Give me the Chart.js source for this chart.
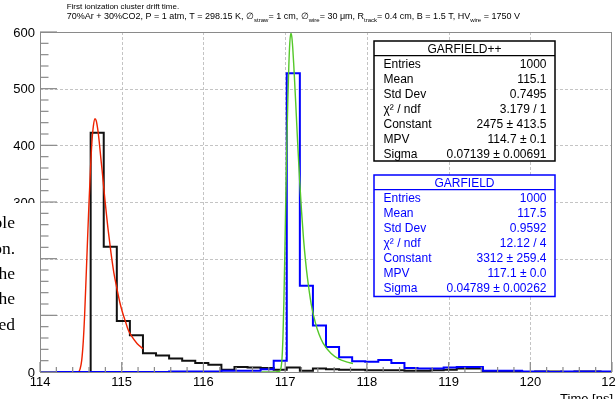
<!DOCTYPE html>
<html><head><meta charset="utf-8">
<script src="https://cdn.jsdelivr.net/npm/chart.js@4.4.1/dist/chart.umd.min.js"></script>
<style>html,body{margin:0;padding:0;background:#fff;}#wrap{width:616px;height:399px;position:relative;}canvas{display:block;}</style>
</head><body><div id="wrap"><canvas id="c" width="616" height="399"></canvas></div>
<script>
// ---- data ----
const binStart = 113.98;
const binWidth = 0.16;
const garfieldPPCounts = [0,0,0,0,422,221,90,65,33,29,24,20,16,13,4,9,8,7,4,8,2,6,5,4,4,3,3,3,2,2,3,4,6,6,1,1,1,0,1,1,0,1,1,0];
const garfieldCounts   = [0,0,0,0,0,0,0,0,0,0,1,1,1,1,2,2,2,5,20,527,152,82,44,26,19,18,21,16,7,6,6,8,9,9,2,2,2,1,1,0,1,1,1,1];
const fitRedX = [114.45,114.475,114.49,114.51,114.53,114.546,114.565,114.582,114.60,114.618,114.635,114.653,114.673,114.689,114.707,114.725,114.742,114.760,114.778,114.796,114.814,114.832,114.868,114.903,114.94,114.975,115.01,115.046,115.08,115.117,115.19,115.26];
const fitRedY = [0,1,5,20,55,100,170,234,300,359,405,434,447,443,428,406,381,356,329,302,277,253,211,176,148,124,105,89,74,64,50,41];
const fitGreenX = [116.71,116.85,116.92,116.937,116.95,116.961,116.973,116.985,116.997,117.009,117.021,117.033,117.045,117.057,117.07,117.081,117.093,117.105,117.117,117.129,117.141,117.153,117.177,117.201,117.225,117.249,117.273,117.32,117.368,117.416,117.464,117.56,117.656,117.75,117.83];
const fitGreenY = [0,0,1,2,8,22,60,126,215,313,405,480,540,581,598,592,572,543,510,476,440,405,339,283,235,197,166,119,88,66,51,33,23,18,15];
const xTickLabels = ['114','115','116','117','118','119','120','121'];
const yTickLabels = ['0','100','200','300','400','500','600'];
const statsPPTitle = 'GARFIELD++';
const statsPPNames = ['Entries','Mean','Std Dev','χ² / ndf','Constant','MPV','Sigma'];
const statsPPValues = ['1000','115.1','0.7495','3.179 / 1','2475 ± 413.5','114.7 ± 0.1','0.07139 ± 0.00691'];
const statsGTitle = 'GARFIELD';
const statsGNames = ['Entries','Mean','Std Dev','χ² / ndf','Constant','MPV','Sigma'];
const statsGValues = ['1000','117.5','0.9592','12.12 / 4','3312 ± 259.4','117.1 ± 0.0','0.04789 ± 0.00262'];
const titleLine1 = 'First ionization cluster drift time.';
const titleLine2 = [['70%Ar + 30%CO2, P = 1 atm, T = 298.15 K, ∅',0],['straw',1],['= 1 cm, ∅',0],['wire',1],['= 30 μm, R',0],['track',1],['= 0.4 cm, B = 1.5 T, HV',0],['wire',1],[' = 1750 V',0]];
const xAxisTitle = 'Time [ns]';
const overlayWords = ['ple','on.','the','the','ed'];

// ---- helpers ----
function histPoints(counts){
  const pts = counts.map((c,i)=>({x: binStart + i*binWidth, y: c}));
  pts.push({x: binStart + counts.length*binWidth, y: counts[counts.length-1]});
  return pts;
}
function curvePoints(xs, ys){ return xs.map((v,i)=>({x:v, y:ys[i]})); }

const SANS = '"Liberation Sans", Arial, Helvetica, sans-serif';

function drawStats(ctx, left, top, w, h, color, title, names, values){
  ctx.save();
  ctx.fillStyle = '#fff';
  ctx.fillRect(left, top, w, h);
  ctx.strokeStyle = color; ctx.lineWidth = 1.5;
  ctx.strokeRect(left, top, w, h);
  ctx.beginPath(); ctx.moveTo(left, top+14.7); ctx.lineTo(left+w, top+14.7); ctx.lineWidth = 1.2; ctx.stroke();
  ctx.fillStyle = color;
  ctx.font = '12px ' + SANS;
  ctx.textBaseline = 'middle';
  ctx.textAlign = 'center';
  ctx.fillText(title, left + w/2, top + 8.3);
  names.forEach((n,i)=>{
    const yy = top + 24 + i*15;
    ctx.textAlign = 'left';
    ctx.fillText(n, left + 9.5, yy);
    ctx.textAlign = 'right';
    ctx.fillText(values[i], left + w - 8.5, yy);
  });
  ctx.restore();
}

const rootPlugin = {
  id: 'rootStyle',
  beforeDatasetsDraw(chart){
    const {ctx, chartArea: a, scales: {x, y}} = chart;
    ctx.save();
    ctx.strokeStyle = '#c4c4c4'; ctx.lineWidth = 1; ctx.setLineDash([3,2]);
    xTickLabels.forEach(t=>{
      const v = parseFloat(t); if (v <= x.min || v >= x.max) return;
      const px = Math.round(x.getPixelForValue(v)) + 0.5;
      ctx.beginPath(); ctx.moveTo(px, a.top); ctx.lineTo(px, a.bottom); ctx.stroke();
    });
    yTickLabels.forEach(t=>{
      const v = parseFloat(t); if (v <= y.min || v >= y.max) return;
      const py = Math.round(y.getPixelForValue(v)) + 0.5;
      ctx.beginPath(); ctx.moveTo(a.left, py); ctx.lineTo(a.right, py); ctx.stroke();
    });
    ctx.restore();
  },
  afterDatasetsDraw(chart){
    const {ctx, chartArea: a, scales: {x, y}} = chart;
    ctx.save();
    // frame
    ctx.strokeStyle = '#8a8a8a'; ctx.lineWidth = 1;
    ctx.strokeRect(a.left + 0.5, a.top + 0.5, a.right - a.left - 1, a.bottom - a.top);
    // y ticks (inside)
    ctx.lineWidth = 1.2;
    for (let v = y.min; v <= y.max + 1e-6; v += 20){
      const py = y.getPixelForValue(v);
      const major = Math.abs(v % 100) < 1e-6;
      ctx.beginPath(); ctx.moveTo(a.left, py); ctx.lineTo(a.left + (major ? 17 : 8.5), py); ctx.stroke();
    }
    // x ticks (inside)
    for (let i = 0; i <= 35; i++){
      const v = x.min + i*0.2;
      const px = x.getPixelForValue(v);
      const major = i % 5 === 0;
      ctx.beginPath(); ctx.moveTo(px, a.bottom); ctx.lineTo(px, a.bottom - (major ? 10 : 5)); ctx.stroke();
    }
    // tick labels
    ctx.fillStyle = '#000';
    ctx.font = '13px ' + SANS;
    ctx.textBaseline = 'alphabetic';
    ctx.textAlign = 'right';
    yTickLabels.forEach(t=>{
      const py = y.getPixelForValue(parseFloat(t));
      ctx.fillText(t, a.left - 5, py + 4.7);
    });
    ctx.textAlign = 'center';
    xTickLabels.forEach(t=>{
      const px = x.getPixelForValue(parseFloat(t));
      ctx.fillText(t, px, 385.5);
    });
    ctx.textAlign = 'right';
    ctx.fillText(xAxisTitle, a.right + 1, 403);

    // stats boxes
    drawStats(ctx, 374, 41, 181, 120, '#000', statsPPTitle, statsPPNames, statsPPValues);
    drawStats(ctx, 374, 175, 181, 121.5, '#0000ff', statsGTitle, statsGNames, statsGValues);

    // title
    ctx.fillStyle = '#000';
    ctx.textAlign = 'left';
    ctx.font = '8px ' + SANS;
    ctx.fillText(titleLine1, 66.7, 8.8);
    let cx = 66.7;
    titleLine2.forEach(([s, sub])=>{
      ctx.font = (sub ? '6px ' : '9px ') + SANS;
      ctx.fillText(s, cx, sub ? 21.5 : 19.3);
      cx += ctx.measureText(s).width;
    });

    // overlay patch on the left
    ctx.fillStyle = '#fff';
    ctx.fillRect(0, 203, 39, 147);
    ctx.fillStyle = '#000';
    ctx.font = '17.5px "Liberation Serif", "Times New Roman", serif';
    ctx.textAlign = 'right';
    overlayWords.forEach((w,i)=>{ ctx.fillText(w, 15, 228.3 + i*25.3); });
    ctx.restore();
  }
};

const histClip = {left: 0, top: 0, right: 0, bottom: 2};

new Chart(document.getElementById('c'), {
  type: 'line',
  data: {
    datasets: [
      {label: 'GARFIELD fit', data: curvePoints(fitGreenX, fitGreenY), borderColor: '#55c82a', borderWidth: 1.4, pointRadius: 0, cubicInterpolationMode: 'monotone', fill: false, order: 1},
      {label: 'GARFIELD', data: histPoints(garfieldCounts), borderColor: '#0000ff', borderWidth: 2, pointRadius: 0, stepped: 'before', fill: false, order: 2, clip: histClip},
      {label: 'GARFIELD++ fit', data: curvePoints(fitRedX, fitRedY), borderColor: '#ee2200', borderWidth: 1.4, pointRadius: 0, cubicInterpolationMode: 'monotone', fill: false, order: 3},
      {label: 'GARFIELD++', data: histPoints(garfieldPPCounts), borderColor: '#111111', borderWidth: 2, pointRadius: 0, stepped: 'before', fill: false, order: 4, clip: histClip}
    ]
  },
  options: {
    responsive: false,
    animation: false,
    devicePixelRatio: 1,
    layout: {padding: {left: 40, right: 4, top: 32, bottom: 27}},
    plugins: {legend: {display: false}, tooltip: {enabled: false}, title: {display: false}},
    scales: {
      x: {type: 'linear', min: 114, max: 121, display: false},
      y: {type: 'linear', min: 0, max: 600, display: false}
    }
  },
  plugins: [rootPlugin]
});
</script>
</body></html>
